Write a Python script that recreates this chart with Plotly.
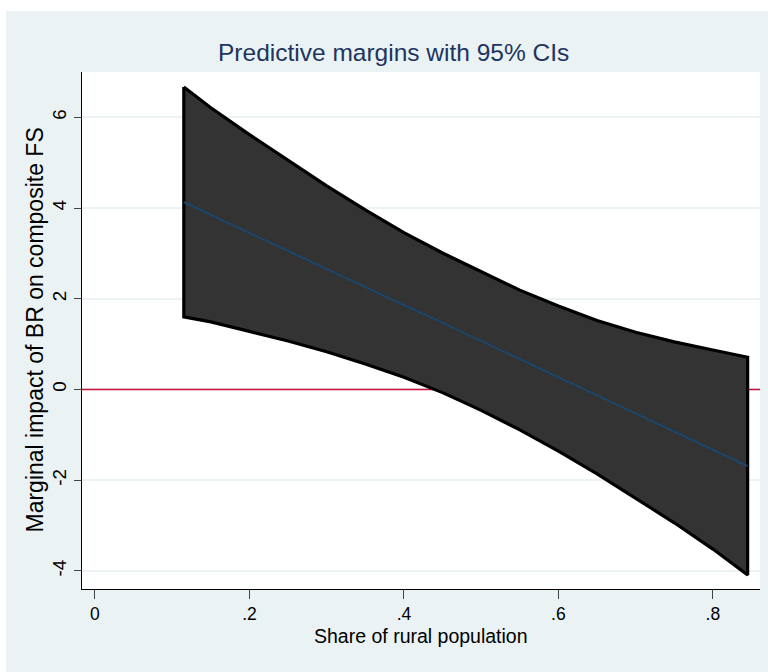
import plotly.graph_objects as go

# Data
rural_share = [0.115, 0.15, 0.2, 0.25, 0.3, 0.35, 0.4, 0.45, 0.5, 0.55, 0.6,
               0.65, 0.7, 0.75, 0.8, 0.845]
margin_est = [4.13, 3.85, 3.45, 3.06, 2.66, 2.26, 1.86, 1.47, 1.07, 0.67, 0.27,
              -0.12, -0.52, -0.92, -1.32, -1.69]
ci_upper = [6.67, 6.21, 5.62, 5.05, 4.49, 3.96, 3.46, 3.01, 2.60, 2.19, 1.84,
            1.52, 1.26, 1.05, 0.87, 0.71]
ci_lower = [1.60, 1.49, 1.28, 1.07, 0.83, 0.56, 0.27, -0.07, -0.46, -0.89, -1.36,
            -1.86, -2.39, -2.94, -3.52, -4.09]

x_tickvals = [0, 0.2, 0.4, 0.6, 0.8]
x_ticktext = ["0", ".2", ".4", ".6", ".8"]
y_tickvals = [-4, -2, 0, 2, 4, 6]
y_ticktext = ["-4", "-2", "0", "2", "4", "6"]
ref_y = 0

BG = "#EAF2F3"
FONT = "Liberation Sans, Arial, Helvetica, sans-serif"

fig = go.Figure()

# reference line at zero (drawn under the band)
fig.add_trace(go.Scatter(
    x=[-1, 2], y=[ref_y, ref_y], mode="lines",
    line=dict(color="#C8103A", width=1.6), hoverinfo="skip", showlegend=False))

# confidence band
fig.add_trace(go.Scatter(
    x=rural_share + rural_share[::-1] + [rural_share[0]],
    y=ci_upper + ci_lower[::-1] + [ci_upper[0]],
    mode="lines", fill="toself", fillcolor="#333333",
    line=dict(color="#000000", width=3.2),
    showlegend=False))

# point estimates
fig.add_trace(go.Scatter(
    x=rural_share, y=margin_est, mode="lines",
    line=dict(color="#1A476F", width=1.8), showlegend=False))

fig.update_layout(
    width=768, height=672,
    margin=dict(l=82, r=8, t=72, b=83),
    paper_bgcolor=BG, plot_bgcolor="white",
    showlegend=False,
    shapes=[
        dict(type="rect", xref="paper", yref="paper", x0=-0.2, x1=1.2,
             y0=(589 - 11) / 517, y1=1.3, fillcolor="white", line_width=0, layer="below"),
        dict(type="rect", xref="paper", yref="paper", x0=-0.2, x1=(6 - 82) / 678,
             y0=-0.3, y1=1.3, fillcolor="white", line_width=0, layer="below"),
    ],
    annotations=[
        dict(text="Predictive margins with 95% CIs", xref="paper", yref="paper",
             x=(393 - 82) / 678, y=(589 - 53) / 517, xanchor="center", yanchor="middle",
             showarrow=False, font=dict(family=FONT, size=24.5, color="#1E3560")),
        dict(text="Share of rural population", xref="paper", yref="paper",
             x=0.5, y=(589 - 636) / 517, xanchor="center", yanchor="middle",
             showarrow=False, font=dict(family=FONT, size=19.5, color="#000000")),
        dict(text="Marginal impact of BR on composite FS", xref="paper", yref="paper",
             x=(34 - 82) / 678, y=0.5, xanchor="center", yanchor="middle", textangle=-90,
             showarrow=False, font=dict(family=FONT, size=23, color="#000000")),
    ],
)

fig.update_xaxes(
    range=[-0.0168, 0.861], tickvals=x_tickvals, ticktext=x_ticktext,
    showgrid=False, zeroline=False, showline=True, linecolor="#000000", linewidth=1.2,
    ticks="outside", ticklen=9, tickwidth=1.2, tickcolor="#444444",
    tickfont=dict(family=FONT, size=17.5, color="#000000"))

fig.update_yaxes(
    range=[-4.40, 7.0], tickvals=y_tickvals, ticktext=y_ticktext, tickangle=-90,
    showgrid=True, gridcolor=BG, gridwidth=1.5, zeroline=False,
    showline=True, linecolor="#000000", linewidth=1.2,
    ticks="outside", ticklen=7, tickwidth=1.2, tickcolor="#444444",
    tickfont=dict(family=FONT, size=18.8, color="#000000"))

fig.write_html("out.html")
